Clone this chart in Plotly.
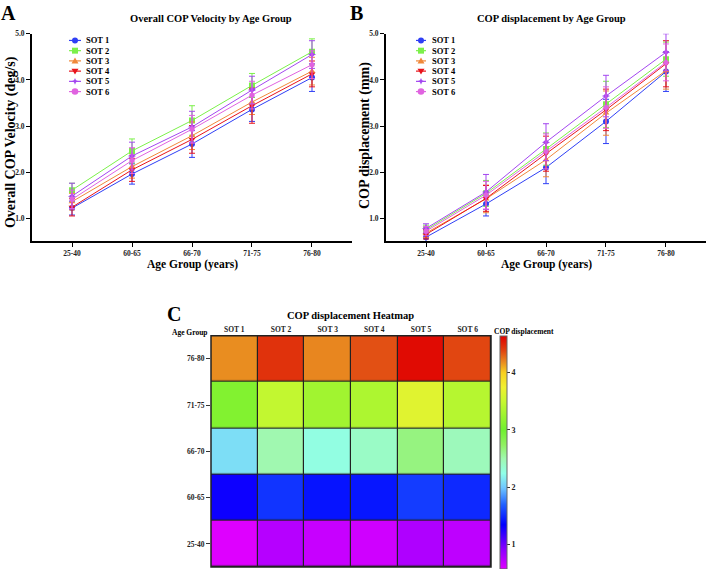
import plotly.graph_objects as go

W, H = 708, 569

age_groups = ["25-40", "60-65", "66-70", "71-75", "76-80"]
sot_names = ["SOT 1", "SOT 2", "SOT 3", "SOT 4", "SOT 5", "SOT 6"]
colors = ["#2f3ff5", "#7cf04a", "#f0883a", "#e8141c", "#a346f0", "#e063e0"]
symbols = ["circle", "square", "triangle-up", "triangle-down", "star-diamond", "hexagon"]

# Panel A: Overall COP velocity (deg/s)
vel_sot1 = [1.22, 1.96, 2.61, 3.36, 4.05]
vel_sot2 = [1.61, 2.46, 3.12, 3.88, 4.61]
vel_sot3 = [1.36, 2.12, 2.79, 3.52, 4.19]
vel_sot4 = [1.24, 2.05, 2.71, 3.44, 4.13]
vel_sot5 = [1.48, 2.35, 2.98, 3.78, 4.55]
vel_sot6 = [1.41, 2.25, 2.93, 3.67, 4.33]
vel_err1 = [0.15, 0.22, 0.29, 0.26, 0.30]
vel_err2 = [0.15, 0.26, 0.32, 0.26, 0.28]
vel_err3 = [0.18, 0.25, 0.30, 0.27, 0.30]
vel_err4 = [0.19, 0.25, 0.30, 0.38, 0.28]
vel_err5 = [0.28, 0.30, 0.34, 0.30, 0.30]
vel_err6 = [0.20, 0.28, 0.30, 0.30, 0.30]

# Panel B / C: COP displacement (mm)
disp_sot1 = [0.59, 1.31, 2.10, 3.10, 4.18]
disp_sot2 = [0.75, 1.54, 2.50, 3.47, 4.45]
disp_sot3 = [0.68, 1.42, 2.27, 3.28, 4.20]
disp_sot4 = [0.65, 1.43, 2.40, 3.35, 4.35]
disp_sot5 = [0.78, 1.57, 2.65, 3.65, 4.60]
disp_sot6 = [0.72, 1.50, 2.45, 3.40, 4.38]
disp_err1 = [0.10, 0.26, 0.35, 0.48, 0.43]
disp_err2 = [0.10, 0.28, 0.35, 0.50, 0.37]
disp_err3 = [0.10, 0.30, 0.37, 0.48, 0.40]
disp_err4 = [0.10, 0.28, 0.38, 0.45, 0.50]
disp_err5 = [0.10, 0.38, 0.40, 0.45, 0.40]
disp_err6 = [0.10, 0.30, 0.38, 0.45, 0.40]

y_ticks = [1.0, 2.0, 3.0, 4.0, 5.0]
cbar_ticks = [1, 2, 3, 4]

vel = [vel_sot1, vel_sot2, vel_sot3, vel_sot4, vel_sot5, vel_sot6]
vel_err = [vel_err1, vel_err2, vel_err3, vel_err4, vel_err5, vel_err6]
disp = [disp_sot1, disp_sot2, disp_sot3, disp_sot4, disp_sot5, disp_sot6]
disp_err = [disp_err1, disp_err2, disp_err3, disp_err4, disp_err5, disp_err6]

FONT = "'Liberation Serif', 'Times New Roman', 'DejaVu Serif', serif"


def px(x):
    return x / W


def py(y):
    return 1 - y / H


def bold(t):
    return "<b>" + t + "</b>"


fig = go.Figure()

for k in range(6):
    for data, err, xa, ya in ((vel, vel_err, "x", "y"), (disp, disp_err, "x2", "y2")):
        fig.add_trace(go.Scatter(
            x=age_groups, y=data[k], xaxis=xa, yaxis=ya,
            mode="lines+markers", name=sot_names[k], showlegend=False,
            line=dict(color=colors[k], width=1),
            marker=dict(symbol=symbols[k], size=6, color=colors[k]),
            error_y=dict(type="data", array=err[k], color=colors[k], thickness=1, width=3),
        ))

# heatmap values: rows = age groups, cols = SOT
z = [[disp[k][i] for k in range(6)] for i in range(5)]
cscale = [
    [0.0, "#e000ff"], [0.08, "#9000ff"], [0.19, "#0000ff"], [0.276, "#2060ff"],
    [0.35, "#70c8ff"], [0.41, "#90ffe8"], [0.473, "#a0f8b0"], [0.534, "#90f060"],
    [0.596, "#70f030"], [0.72, "#c8f830"], [0.78, "#f0f030"], [0.842, "#f8d020"],
    [0.89, "#e88820"], [0.94, "#e04010"], [1.0, "#e00000"],
]
fig.add_trace(go.Heatmap(
    x=sot_names, y=age_groups, z=z, xaxis="x3", yaxis="y3",
    colorscale=cscale, zmin=0.58, zmax=4.64, xgap=1.2, ygap=1.2,
    colorbar=dict(
        x=px(500), xanchor="left", y=py(334), yanchor="top",
        len=233, lenmode="pixels", thickness=7, thicknessmode="pixels",
        xpad=0, ypad=0, outlinewidth=1, outlinecolor="#666",
        tickvals=cbar_ticks, ticks="outside", ticklen=3, tickcolor="#333",
        tickfont=dict(family=FONT, size=8, color="#222", weight="bold"),
    ),
))

tickfont = dict(family=FONT, size=7.5, color="#222", weight="bold")
ax_common = dict(showline=True, linecolor="black", linewidth=1.8, ticks="outside",
                 ticklen=4, tickwidth=1.2, tickcolor="black", showgrid=False,
                 zeroline=False, tickfont=tickfont)

layout = dict(
    width=W, height=H, margin=dict(l=0, r=0, t=0, b=0),
    paper_bgcolor="white", plot_bgcolor="rgba(0,0,0,0)",
    font=dict(family=FONT, color="black"),
    xaxis=dict(domain=[px(32), px(352)], anchor="y", type="category",
               range=[-0.667, 4.667], **ax_common),
    yaxis=dict(domain=[py(239), py(30)], anchor="x", range=[0.5, 5.0],
               tickvals=y_ticks, tickformat=".1f", **ax_common),
    xaxis2=dict(domain=[px(386), px(706)], anchor="y2", type="category",
                range=[-0.667, 4.667], **ax_common),
    yaxis2=dict(domain=[py(239), py(30)], anchor="x2", range=[0.5, 5.0],
                tickvals=y_ticks, tickformat=".1f", **ax_common),
    xaxis3=dict(domain=[px(211), px(491)], anchor="y3", side="top", showgrid=False,
                zeroline=False, showline=False, ticks="", tickfont=tickfont,
                ticklabelstandoff=1),
    yaxis3=dict(domain=[py(567), py(334)], anchor="x3", showgrid=False, zeroline=False,
                showline=False, ticks="outside", ticklen=4, tickcolor="#333",
                tickfont=tickfont),
)
fig.update_layout(**layout)

shapes = []
# dark background behind heatmap to form cell borders, and outer frame
shapes.append(dict(type="rect", xref="x3 domain", yref="y3 domain", x0=0, x1=1, y0=0, y1=1,
                   fillcolor="#222", line=dict(width=0), layer="below"))
shapes.append(dict(type="rect", xref="x3 domain", yref="y3 domain", x0=0, x1=1, y0=0, y1=1,
                   line=dict(color="#222", width=1.5), layer="above"))

annotations = []


def ann(text, x, y, size, xanchor="center", angle=0, yanchor="middle"):
    annotations.append(dict(text=bold(text), x=px(x), y=py(y), xref="paper", yref="paper",
                            showarrow=False, xanchor=xanchor, yanchor=yanchor, textangle=angle,
                            font=dict(family=FONT, size=size, color="black")))


# panel letters
ann("A", 8, 9, 20)
ann("B", 356, 9, 20)
ann("C", 174, 312, 20)
# titles
ann("Overall COP Velocity by Age Group", 211, 15, 10.5)
ann("COP displacement by Age Group", 551, 15, 10.5)
ann("COP displacement Heatmap", 350, 314, 10.5)
# axis titles
ann("Age Group (years)", 192, 262, 11.5)
ann("Age Group (years)", 546, 262, 11.5)
ann("Overall COP Velocity (deg/s)", 11, 139, 14, angle=-90)
ann("COP displacement (mm)", 365, 133, 14, angle=-90)
# heatmap extra labels
ann("Age Group", 210, 331, 7.5, xanchor="right")
ann("COP displacement", 492, 330, 7.5, xanchor="left")

# custom compact legends
row_y = [36.7, 47.0, 57.3, 67.6, 77.9, 88.2]
for (lx0, lx1, tx) in ((69, 81, 84), (416, 426, 430)):
    mx = (lx0 + lx1) / 2
    for k in range(6):
        yy = row_y[k]
        shapes.append(dict(type="line", xref="paper", yref="paper", x0=px(lx0), x1=px(lx1),
                           y0=py(yy), y1=py(yy), line=dict(color=colors[k], width=1.2)))
        r = 3.0
        sym = symbols[k]
        if sym in ("circle", "hexagon"):
            rr = 3.3 if sym == "hexagon" else r
            shapes.append(dict(type="circle", xref="paper", yref="paper",
                               x0=px(mx - rr), x1=px(mx + rr), y0=py(yy - rr), y1=py(yy + rr),
                               fillcolor=colors[k], line=dict(width=0)))
        elif sym == "square":
            shapes.append(dict(type="rect", xref="paper", yref="paper",
                               x0=px(mx - r), x1=px(mx + r), y0=py(yy - r), y1=py(yy + r),
                               fillcolor=colors[k], line=dict(width=0)))
        else:
            if sym == "triangle-up":
                pts = [(mx, yy - 3.5), (mx + 3.5, yy + 2.5), (mx - 3.5, yy + 2.5)]
            elif sym == "triangle-down":
                pts = [(mx, yy + 3.5), (mx + 3.5, yy - 2.5), (mx - 3.5, yy - 2.5)]
            else:
                pts = [(mx, yy - 3.5), (mx + 1, yy - 1), (mx + 3.5, yy), (mx + 1, yy + 1),
                       (mx, yy + 3.5), (mx - 1, yy + 1), (mx - 3.5, yy), (mx - 1, yy - 1)]
            path = "M " + " L ".join(f"{px(a):.5f},{py(b):.5f}" for a, b in pts) + " Z"
            shapes.append(dict(type="path", xref="paper", yref="paper", path=path,
                               fillcolor=colors[k], line=dict(width=0)))
        ann(sot_names[k], tx, yy, 8.5, xanchor="left")

fig.update_layout(shapes=shapes, annotations=annotations)
fig.write_html("out.html")
